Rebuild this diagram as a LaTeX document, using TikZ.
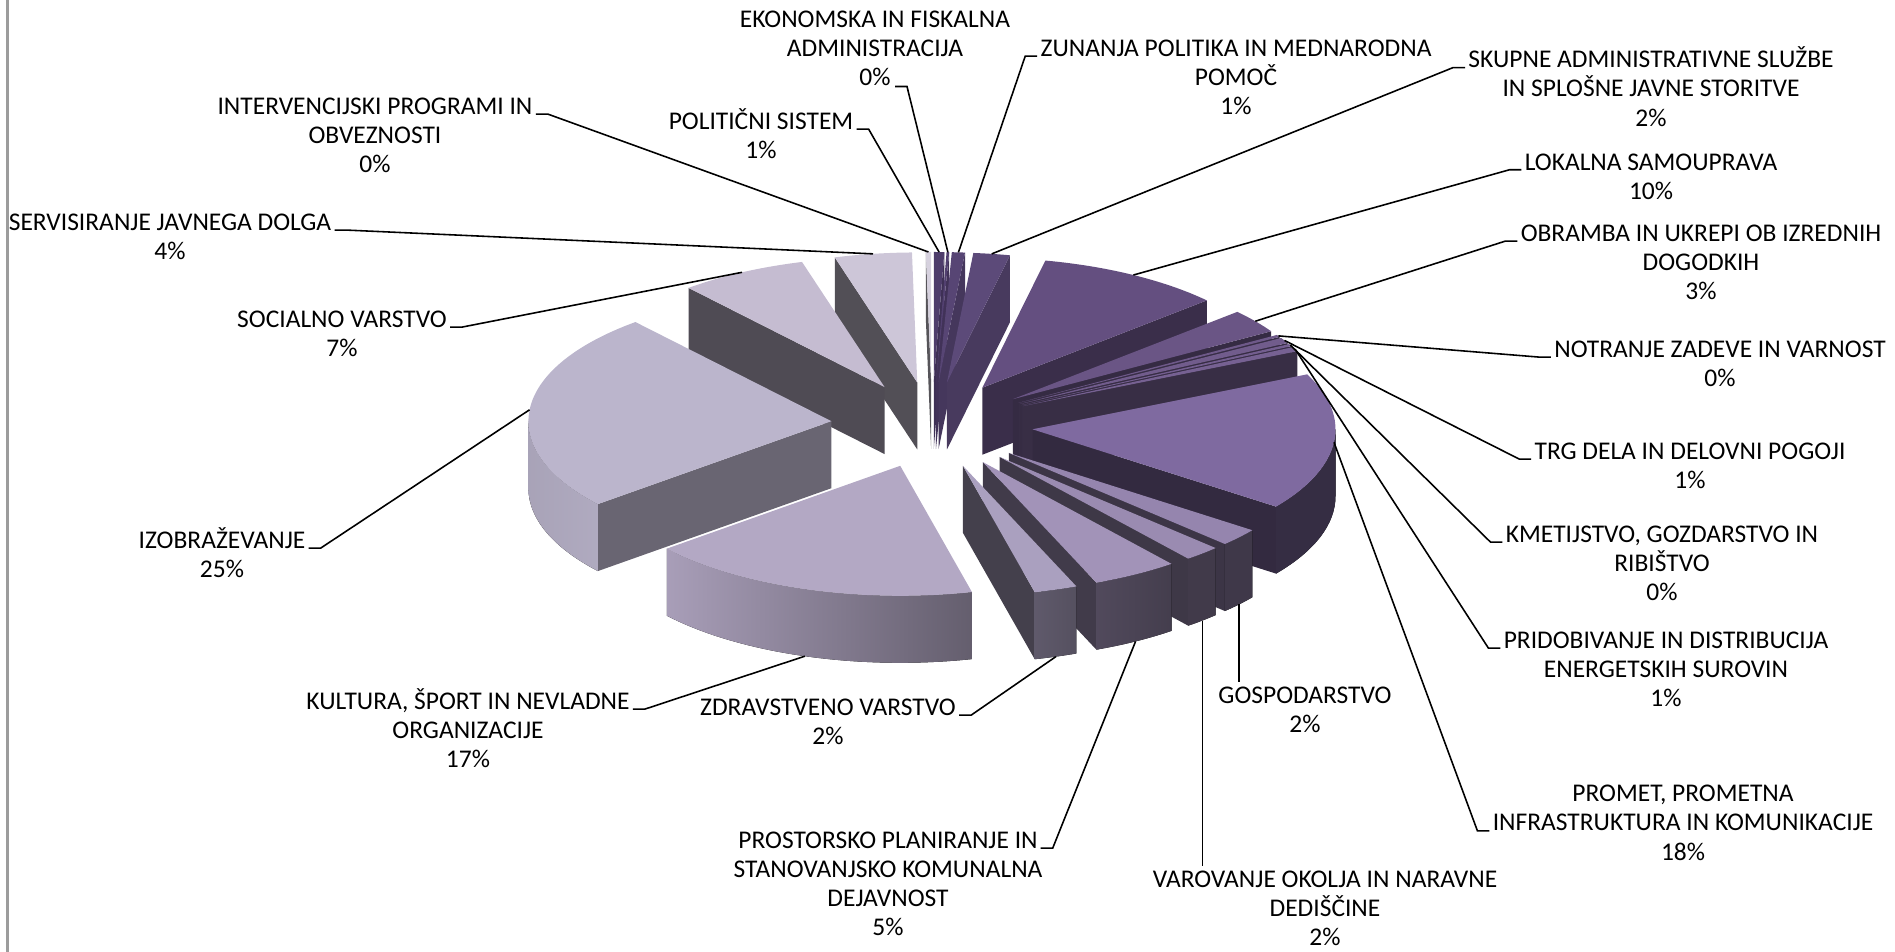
\documentclass[tikz,border=0pt]{standalone}
\usepackage{fontspec}
\setmainfont{Carlito}[FakeStretch=1.0]

\definecolor{cPol}{HTML}{4E3D6B}
\definecolor{cEko}{HTML}{524070}
\definecolor{cZun}{HTML}{574574}
\definecolor{cSku}{HTML}{5C4A79}
\definecolor{cLok}{HTML}{644F80}
\definecolor{cObr}{HTML}{6A5585}
\definecolor{cNot}{HTML}{6E5989}
\definecolor{cTrg}{HTML}{715C8C}
\definecolor{cKme}{HTML}{735E8F}
\definecolor{cPri}{HTML}{766192}
\definecolor{cPro}{HTML}{7F6AA0}
\definecolor{cGos}{HTML}{9585AE}
\definecolor{cVar}{HTML}{9A8BB1}
\definecolor{cPros}{HTML}{A293B8}
\definecolor{cZdr}{HTML}{AAA0BF}
\definecolor{cKul}{HTML}{B3A8C4}
\definecolor{cIzo}{HTML}{BBB5CC}
\definecolor{cSoc}{HTML}{C5BCD1}
\definecolor{cSer}{HTML}{CDC6D8}
\definecolor{cInt}{HTML}{D6D1DE}
\definecolor{cFrame}{HTML}{9C9C9C}

% pie geometry, in px of the chart
\newcommand{\pieCx}{932}
\newcommand{\pieCy}{527}
\newcommand{\pieRx}{303}
\newcommand{\pieRy}{130}
\newcommand{\pieEx}{101}
\newcommand{\pieEy}{43}
\newcommand{\pieDp}{67}
\newcommand{\lbst}{\rule{0pt}{12pt}}

% \pieslice{start angle}{end angle}{colour}{name}
\newcommand{\pieslice}[4]{%
  \pgfmathsetmacro{\slMid}{(#1+#2)/2}%
  \pgfmathsetmacro{\slX}{\pieCx+\pieEx*cos(\slMid)}%
  \pgfmathsetmacro{\slY}{\pieCy+\pieEy*sin(\slMid)}%
  \pgfmathsetmacro{\slAx}{\slX+\pieRx*cos(#1)}%
  \pgfmathsetmacro{\slAy}{\slY+\pieRy*sin(#1)}%
  \pgfmathsetmacro{\slBx}{\slX+\pieRx*cos(#2)}%
  \pgfmathsetmacro{\slBy}{\slY+\pieRy*sin(#2)}%
  \pgfmathsetmacro{\slMx}{\slX+\pieRx*cos(\slMid)}%
  \pgfmathsetmacro{\slMy}{\slY+\pieRy*sin(\slMid)}%
  % cut face at the start angle
  \pgfmathtruncatemacro{\slVis}{cos(#1)<-0.0001}%
  \ifnum\slVis=1
    \pgfmathtruncatemacro{\slF}{40+40*max(0,-sin(#1))^2}%
    \fill[#3!\slF!black] (\slX,\slY) -- (\slAx,\slAy) -- ++(0,-\pieDp) -- (\slX,\slY-\pieDp) -- cycle;
  \fi
  % cut face at the end angle
  \pgfmathtruncatemacro{\slVis}{cos(#2)>0.0001}%
  \ifnum\slVis=1
    \pgfmathtruncatemacro{\slF}{40+40*max(0,sin(#2))^2}%
    \fill[#3!\slF!black] (\slX,\slY) -- (\slBx,\slBy) -- ++(0,-\pieDp) -- (\slX,\slY-\pieDp) -- cycle;
  \fi
  % outer wall, front half only
  \pgfmathsetmacro{\slLo}{max(#2,-180)}%
  \pgfmathsetmacro{\slHi}{min(#1,0)}%
  \pgfmathtruncatemacro{\slVis}{\slLo<\slHi}%
  \ifnum\slVis=1
    \pgfmathsetmacro{\slU}{\slLo+360}%
    \pgfmathtruncatemacro{\slFl}{\slU<225 ? 95-0.11*(225-\slU) : max(42,95-0.66*(\slU-225))}%
    \pgfmathsetmacro{\slU}{\slHi+360}%
    \pgfmathtruncatemacro{\slFr}{\slU<225 ? 95-0.11*(225-\slU) : max(42,95-0.66*(\slU-225))}%
    \pgfmathsetmacro{\slHx}{\slX+\pieRx*cos(\slHi)}%
    \pgfmathsetmacro{\slHy}{\slY+\pieRy*sin(\slHi)}%
    \fill[left color=#3!\slFl!black, right color=#3!\slFr!black] (\slHx,\slHy)
      arc[start angle=\slHi, end angle=\slLo, x radius=\pieRx, y radius=\pieRy]
      -- ++(0,-\pieDp)
      arc[start angle=\slLo, end angle=\slHi, x radius=\pieRx, y radius=\pieRy] -- cycle;
  \fi
  % top
  \fill[#3] (\slX,\slY) -- (\slAx,\slAy)
    arc[start angle=#1, end angle=#2, x radius=\pieRx, y radius=\pieRy] -- cycle;
  \coordinate (#4-top) at (\slMx,\slMy);
  \coordinate (#4-bot) at (\slMx,\slMy-\pieDp);
}

\begin{document}
\begin{tikzpicture}[x=0.02cm, y=0.02cm,
    lbl/.style={font=\fontsize{14.5}{16.6}\selectfont, align=center, anchor=north, inner sep=0pt},
    leader/.style={draw=black, line width=0.9pt}
]
\useasboundingbox (0,0) rectangle (1895,952);
\draw[cFrame, line width=1.6pt] (7.5,0) -- (7.5,952);

% slices, back to front
\pieslice{-269}{-270}{cInt}{int}
\pieslice{90}{88}{cPol}{pol}
\pieslice{88}{87.5}{cEko}{eko}
\pieslice{87.5}{85}{cZun}{zun}
\pieslice{-254.2}{-269}{cSer}{ser}
\pieslice{85}{78}{cSku}{sku}
\pieslice{-229.7}{-254.2}{cSoc}{soc}
\pieslice{78}{42.2}{cLok}{lok}
\pieslice{42.2}{31.5}{cObr}{obr}
\pieslice{31.5}{30.5}{cNot}{not}
\pieslice{30.5}{28}{cTrg}{trg}
\pieslice{28}{27}{cKme}{kme}
\pieslice{27}{25}{cPri}{pri}
\pieslice{-140.4}{-229.7}{cIzo}{izo}
\pieslice{25}{-36.5}{cPro}{pro}
\pieslice{-36.5}{-44.5}{cGos}{gos}
\pieslice{-44.5}{-51.5}{cVar}{var}
\pieslice{-51.5}{-68}{cPros}{pros}
\pieslice{-76.3}{-140.4}{cKul}{kul}
\pieslice{-68}{-76.3}{cZdr}{zdr}

% labels
\node[lbl] (lEko) at (875,945.8) {\lbst EKONOMSKA IN FISKALNA\\ADMINISTRACIJA\\0\%};
\node[lbl] (lInt) at (375,859.1) {\lbst INTERVENCIJSKI PROGRAMI IN\\OBVEZNOSTI\\0\%};
\node[lbl] (lPol) at (761,844.1) {\lbst POLITIČNI SISTEM\\1\%};
\node[lbl] (lZun) at (1236,917.1) {\lbst ZUNANJA POLITIKA IN MEDNARODNA\\POMOČ\\1\%};
\node[lbl] (lSku) at (1651,905.6) {\lbst SKUPNE ADMINISTRATIVNE SLUŽBE\\IN SPLOŠNE JAVNE STORITVE\\2\%};
\node[lbl] (lLok) at (1651,803.4) {\lbst LOKALNA SAMOUPRAVA\\10\%};
\node[lbl] (lObr) at (1701,732.1) {\lbst OBRAMBA IN UKREPI OB IZREDNIH\\DOGODKIH\\3\%};
\node[lbl] (lNot) at (1720,616.1) {\lbst NOTRANJE ZADEVE IN VARNOST\\0\%};
\node[lbl] (lTrg) at (1690,514.1) {\lbst TRG DELA IN DELOVNI POGOJI\\1\%};
\node[lbl] (lKme) at (1662,431.1) {\lbst KMETIJSTVO, GOZDARSTVO IN\\RIBIŠTVO\\0\%};
\node[lbl] (lPri) at (1666,325.1) {\lbst PRIDOBIVANJE IN DISTRIBUCIJA\\ENERGETSKIH SUROVIN\\1\%};
\node[lbl] (lPro) at (1683,171.6) {\lbst PROMET, PROMETNA\\INFRASTRUKTURA IN KOMUNIKACIJE\\18\%};
\node[lbl] (lGos) at (1305,270.1) {\lbst GOSPODARSTVO\\2\%};
\node[lbl] (lVar) at (1325,86) {\lbst VAROVANJE OKOLJA IN NARAVNE\\DEDIŠČINE\\2\%};
\node[lbl] (lPros) at (888,125.1) {\lbst PROSTORSKO PLANIRANJE IN\\STANOVANJSKO KOMUNALNA\\DEJAVNOST\\5\%};
\node[lbl] (lZdr) at (828,258.1) {\lbst ZDRAVSTVENO VARSTVO\\2\%};
\node[lbl] (lKul) at (468,264.1) {\lbst KULTURA, ŠPORT IN NEVLADNE\\ORGANIZACIJE\\17\%};
\node[lbl] (lIzo) at (222,425.1) {\lbst IZOBRAŽEVANJE\\25\%};
\node[lbl] (lSoc) at (342,646.1) {\lbst SOCIALNO VARSTVO\\7\%};
\node[lbl] (lSer) at (170,743.1) {\lbst SERVISIRANJE JAVNEGA DOLGA\\4\%};

% leader lines
\draw[leader] (lEko.south) ++(20,0) -- ++(12,0) -- (eko-top);
\draw[leader] (lInt.north east) ++(3,-21.2) -- ++(12,0) -- (int-top);
\draw[leader] (lPol.north east) ++(3,-21.2) -- ++(12,0) -- (pol-top);
\draw[leader] (lZun.north west) ++(-3,-21.2) -- ++(-12,0) -- (zun-top);
\draw[leader] (lSku.north west) ++(-3,-21.2) -- ++(-12,0) -- (sku-top);
\draw[leader] (lLok.north west) ++(-3,-21.2) -- ++(-12,0) -- (lok-top);
\draw[leader] (lObr.north west) ++(-3,-21.2) -- ++(-12,0) -- (obr-top);
\draw[leader] (lNot.north west) ++(-3,-21.2) -- ++(-12,0) -- (not-top);
\draw[leader] (lTrg.north west) ++(-3,-21.2) -- ++(-12,0) -- (trg-top);
\draw[leader] (lKme.north west) ++(-3,-21.2) -- ++(-12,0) -- (kme-top);
\draw[leader] (lPri.north west) ++(-3,-21.2) -- ++(-12,0) -- (pri-top);
\draw[leader] (lPro.north west) ++(-3,-50.5) -- ++(-12,0) -- (pro-top);
\draw[leader] (gos-bot) -- (gos-bot |- lGos.north);
\draw[leader] (var-bot) -- (var-bot |- lVar.north);
\draw[leader] (lPros.north east) ++(-2,-21.2) -- ++(12,0) -- (pros-bot);
\draw[leader] (lZdr.north east) ++(3,-21.2) -- ++(12,0) -- (zdr-bot);
\draw[leader] (lKul.north east) ++(3,-21.2) -- ++(12,0) -- (kul-bot);
\draw[leader] (lIzo.north east) ++(3,-21.2) -- ++(12,0) -- (izo-top);
\draw[leader] (lSoc.north east) ++(3,-21.2) -- ++(12,0) -- (soc-top);
\draw[leader] (lSer.north east) ++(3,-21.2) -- ++(12,0) -- (ser-top);
\end{tikzpicture}
\end{document}
